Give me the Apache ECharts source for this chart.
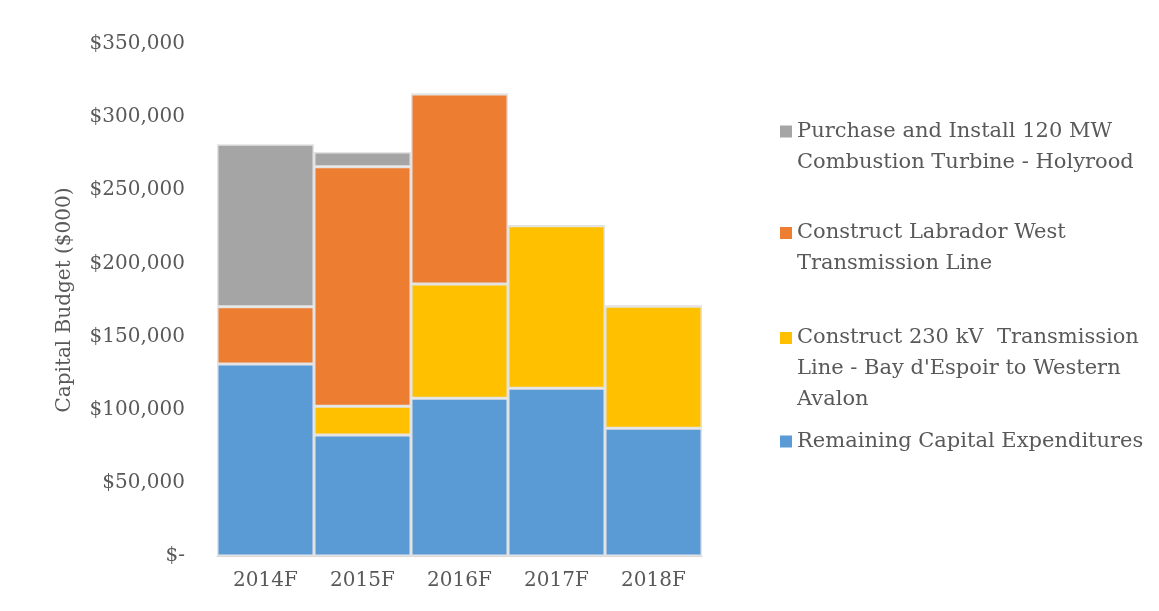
<!DOCTYPE html>
<html>
<head>
<meta charset="utf-8">
<script src="https://cdn.jsdelivr.net/npm/echarts@6/dist/echarts.min.js"></script>
<style>
html,body{margin:0;padding:0;background:#fff;}
#main{width:1159px;height:611px;}
</style>
</head>
<body>
<div id="main"></div>
<script>
const categories = ['2014F', '2015F', '2016F', '2017F', '2018F'];
const remaining = [131.2, 82.7, 107.8, 114.6, 87.3].map(v => v * 1000);
const bayDEspoir = [0, 19.6, 78.1, 111.2, 83.4].map(v => v * 1000);
const labradorWest = [39.2, 163.8, 129.9, 0, 0].map(v => v * 1000);
const holyrood = [111.0, 10.1, 0, 0, 0].map(v => v * 1000);
const yTicks = [0, 50000, 100000, 150000, 200000, 250000, 300000, 350000];

const names = {
  holyrood: 'Purchase and Install 120 MW\nCombustion Turbine - Holyrood',
  labrador: 'Construct Labrador West\nTransmission Line',
  bay: 'Construct 230 kV  Transmission\nLine - Bay d\'Espoir to Western\nAvalon',
  remaining: 'Remaining Capital Expenditures'
};

const FONT = 'DejaVu Serif';
const TXT = '#595959';
const LH = 31;

function legendFor(name, lines, top) {
  const H = lines * LH;
  const sq = LH / 2 - 6;
  const icon = 'path://M0,0h0.01v0.01h-0.01z M0,' + sq + 'h12v12h-12z M0,' + (H - 0.01) + 'h0.01v0.01h-0.01z';
  return {
    show: true,
    left: 780,
    top: top,
    padding: 0,
    orient: 'vertical',
    itemWidth: 12,
    itemHeight: H,
    itemGap: 0,
    selectedMode: false,
    itemStyle: {borderWidth: 0},
    data: [{name: name, icon: icon}],
    textStyle: {fontFamily: FONT, fontSize: 21, color: TXT, lineHeight: LH}
  };
}

const chart = echarts.init(document.getElementById('main'), null, {renderer: 'canvas'});
const barStyle = c => ({color: c, borderColor: '#e3e3e3', borderWidth: 1.5});

chart.setOption({
  animation: false,
  backgroundColor: '#ffffff',
  grid: {left: 217, right: 457, top: 44, bottom: 55, containLabel: false},
  legend: [
    legendFor(names.holyrood, 2, 116),
    legendFor(names.labrador, 2, 217.5),
    legendFor(names.bay, 3, 322.5),
    legendFor(names.remaining, 1, 426)
  ],
  xAxis: {
    type: 'category',
    data: categories,
    axisLine: {show: true, lineStyle: {color: '#d9d9d9'}},
    axisTick: {show: false},
    axisLabel: {fontFamily: FONT, fontSize: 20, color: TXT, margin: 15}
  },
  yAxis: {
    type: 'value',
    min: 0, max: 350000, interval: 50000,
    name: 'Capital Budget ($000)',
    nameLocation: 'middle',
    nameGap: 142,
    nameRotate: 90,
    nameTextStyle: {fontFamily: FONT, fontSize: 20, color: TXT},
    axisLine: {show: false},
    axisTick: {show: false},
    splitLine: {show: false},
    axisLabel: {
      fontFamily: FONT, fontSize: 20, color: TXT, margin: 32,
      formatter: v => v === 0 ? '$-' : '$' + v.toLocaleString('en-US')
    }
  },
  series: [
    {name: names.remaining, type: 'bar', stack: 'a', barCategoryGap: 0, data: remaining, itemStyle: barStyle('#5B9BD5')},
    {name: names.bay, type: 'bar', stack: 'a', barCategoryGap: 0, data: bayDEspoir, itemStyle: barStyle('#FFC000')},
    {name: names.labrador, type: 'bar', stack: 'a', barCategoryGap: 0, data: labradorWest, itemStyle: barStyle('#ED7D31')},
    {name: names.holyrood, type: 'bar', stack: 'a', barCategoryGap: 0, data: holyrood, itemStyle: barStyle('#A5A5A5')}
  ]
});
</script>
</body>
</html>
